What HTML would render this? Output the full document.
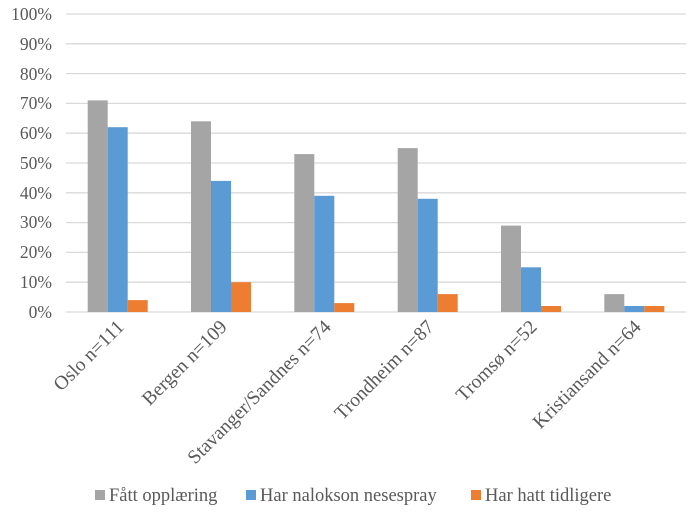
<!DOCTYPE html>
<html><head><style>body{margin:0;background:#fff}svg{display:block}text{font-family:"Liberation Serif",serif;fill:#595959;font-size:17.5px}text.c{font-size:19.5px}text.l{font-size:18.5px}</style></head><body>
<svg width="700" height="518" xmlns="http://www.w3.org/2000/svg">
<g stroke="#d9d9d9" stroke-width="1.3">
<line x1="66" x2="686" y1="14" y2="14"/><line x1="66" x2="686" y1="43.8" y2="43.8"/><line x1="66" x2="686" y1="73.6" y2="73.6"/><line x1="66" x2="686" y1="103.4" y2="103.4"/><line x1="66" x2="686" y1="133.2" y2="133.2"/><line x1="66" x2="686" y1="163" y2="163"/><line x1="66" x2="686" y1="192.8" y2="192.8"/><line x1="66" x2="686" y1="222.6" y2="222.6"/><line x1="66" x2="686" y1="252.4" y2="252.4"/><line x1="66" x2="686" y1="282.2" y2="282.2"/><line x1="66" x2="686" y1="312" y2="312"/>
</g>
<g text-anchor="end">
<text x="52" y="20">100%</text><text x="52" y="50">90%</text><text x="52" y="80">80%</text><text x="52" y="109">70%</text><text x="52" y="139">60%</text><text x="52" y="169">50%</text><text x="52" y="199">40%</text><text x="52" y="228">30%</text><text x="52" y="258">20%</text><text x="52" y="288">10%</text><text x="52" y="318">0%</text>
</g>
<g fill="#a5a5a5">
<rect x="87.7" y="100.4" width="20" height="211.6"/><rect x="191" y="121.3" width="20" height="190.7"/><rect x="294.3" y="154.1" width="20" height="157.9"/><rect x="397.7" y="148.1" width="20" height="163.9"/><rect x="501" y="225.6" width="20" height="86.4"/><rect x="604.3" y="294.1" width="20" height="17.9"/>
</g>
<g fill="#5b9bd5">
<rect x="107.7" y="127.2" width="20" height="184.8"/><rect x="211" y="180.9" width="20" height="131.1"/><rect x="314.3" y="195.8" width="20" height="116.2"/><rect x="417.7" y="198.8" width="20" height="113.2"/><rect x="521" y="267.3" width="20" height="44.7"/><rect x="624.3" y="306" width="20" height="6"/>
</g>
<g fill="#ed7d31">
<rect x="127.7" y="300.1" width="20" height="11.9"/><rect x="231" y="282.2" width="20" height="29.8"/><rect x="334.3" y="303.1" width="20" height="8.9"/><rect x="437.7" y="294.1" width="20" height="17.9"/><rect x="541" y="306" width="20" height="6"/><rect x="644.3" y="306" width="20" height="6"/>
</g>
<g text-anchor="end">
<text class="c" transform="translate(125,328) rotate(-45)">Oslo n=111</text>
<text class="c" transform="translate(228,328) rotate(-45)">Bergen n=109</text>
<text class="c" transform="translate(332,328) rotate(-45)">Stavanger/Sandnes n=74</text>
<text class="c" transform="translate(435,328) rotate(-45)">Trondheim n=87</text>
<text class="c" transform="translate(538,328) rotate(-45)">Tromsø n=52</text>
<text class="c" transform="translate(642,328) rotate(-45)">Kristiansand n=64</text>
</g>
<rect x="95" y="490" width="10" height="10" fill="#a5a5a5"/><text class="l" x="109" y="501">Fått opplæring</text>
<rect x="246" y="490" width="10" height="10" fill="#5b9bd5"/><text class="l" x="260" y="501">Har nalokson nesespray</text>
<rect x="471" y="490" width="10" height="10" fill="#ed7d31"/><text class="l" x="485" y="501">Har hatt tidligere</text>
</svg>
</body></html>
